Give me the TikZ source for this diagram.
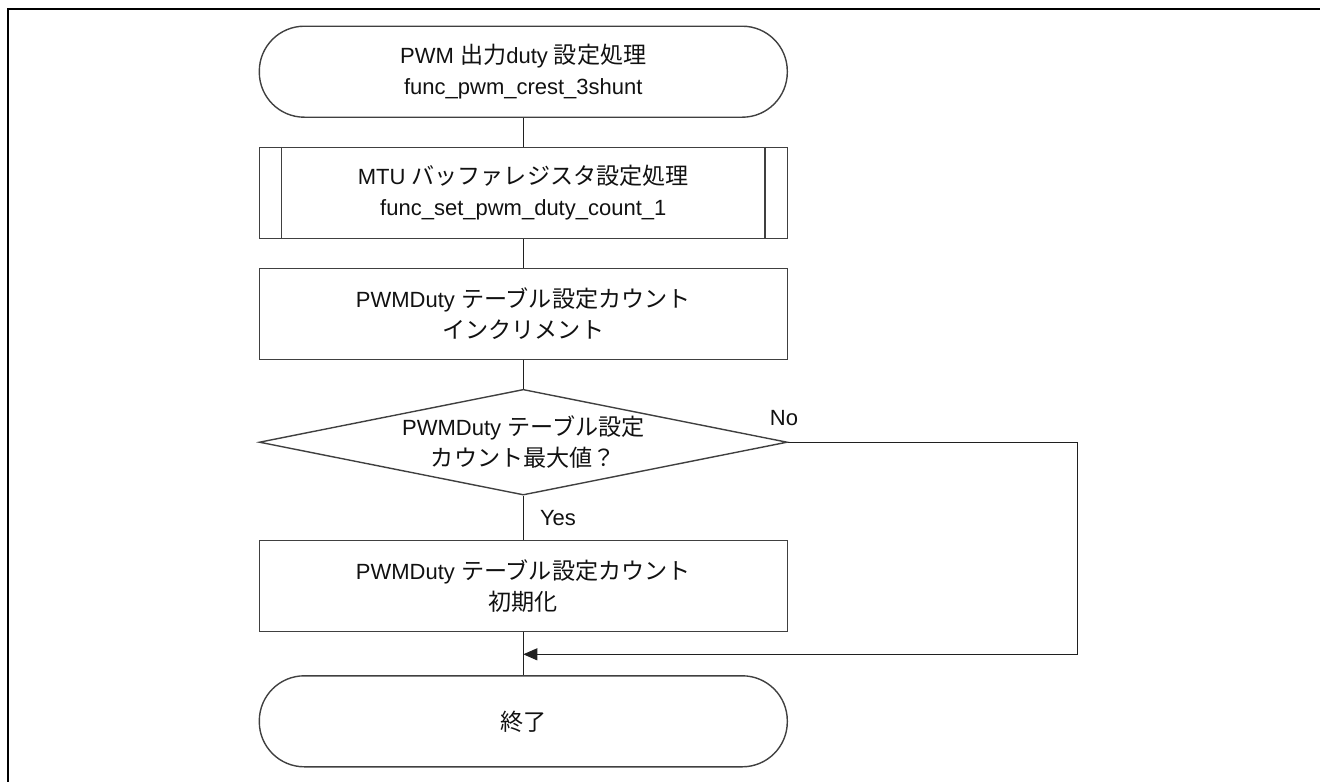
\documentclass[tikz,border=0pt]{standalone}
\usepackage{fontspec}
\setmainfont{Liberation Sans}
\newfontfamily\jp[Scale=1.05]{Noto Sans CJK JP}
\usetikzlibrary{shapes.geometric,arrows.meta}
\definecolor{shapecol}{HTML}{404040}
\definecolor{linecol}{HTML}{202020}
\definecolor{textcol}{HTML}{111111}
\begin{document}
\begin{tikzpicture}[x=1pt,y=-1pt,
  txt/.style={font=\fontsize{22}{31}\selectfont, text=textcol, align=center, inner sep=0pt},
  shapebox/.style={txt, draw=shapecol, line width=1.4pt, minimum width=528pt},
  term/.style={shapebox, rounded corners=45pt, minimum height=91pt},
  proc/.style={shapebox, minimum height=91pt},
  decision/.style={diamond, draw=shapecol, line width=1.4pt, minimum width=528pt, minimum height=105.7pt, inner sep=0pt},
  conn/.style={draw=linecol, line width=1pt},
  frame/.style={draw=black, line width=2.2pt}]
\useasboundingbox (0,0) rectangle (1320,782);
\draw[frame] (1320,9) -- (8,9) -- (8,782);

\node[term] (start) at (523.3,71.7) {PWM {\jp 出力}duty {\jp 設定処理}\\func\_pwm\_crest\_3shunt};
\node[proc] (sub) at (523.3,193) {MTU {\jp バッファレジスタ設定処理}\\func\_set\_pwm\_duty\_count\_1};
\draw[draw=shapecol, line width=1.4pt] ([xshift=23pt]sub.north west) -- ([xshift=23pt]sub.south west);
\draw[draw=shapecol, line width=1.4pt] ([xshift=-23pt]sub.north east) -- ([xshift=-23pt]sub.south east);
\node[proc] (inc) at (523.3,313.7) {PWMDuty {\jp テーブル設定カウント}\\{\jp インクリメント}};
\node[decision] (dec) at (523.3,442.2) {};
\node[txt] (dectext) at (dec.center) {PWMDuty {\jp テーブル設定}\\{\jp カウント最大値？}};
\node[proc] (init) at (523.3,586.2) {PWMDuty {\jp テーブル設定カウント}\\{\jp 初期化}};
\node[term] (end) at (523.3,721.3) {{\jp 終了}};

\coordinate (join) at (523.3,654.3);
\coordinate (nr) at (1077,442.2);
\coordinate (nb) at (1077,654.3);

\draw[conn] (start) -- (sub);
\draw[conn] (sub) -- (inc);
\draw[conn] (inc) -- (dec);
\draw[conn] (dec) -- (init);
\draw[conn] (init) -- (end);
\draw[conn, -{Triangle[length=14pt,width=12pt]}] (dec.east) -- (nr) -- (nb) -- (join);

\node[txt] (yes) at (558,518) {Yes};
\node[txt] (no) at (784,418) {No};
\end{tikzpicture}
\end{document}
